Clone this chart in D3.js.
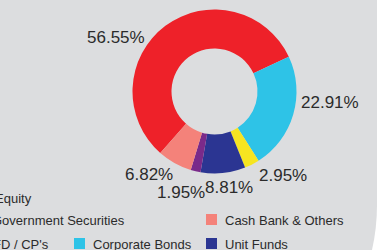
<!DOCTYPE html>
<html><head><meta charset="utf-8">
<script src="https://cdn.jsdelivr.net/npm/d3@7"></script>
<style>html,body{margin:0;padding:0;background:#fff;overflow:hidden}svg{display:block}</style>
</head><body>
<svg id="c" width="377" height="250"></svg>
<script>
const categories = ["Equity","Corporate Bonds","FD / CP's","Unit Funds","Government Securities","Cash Bank & Others"];
const values = [56.55, 22.91, 2.95, 8.81, 1.95, 6.82];
const colors = ["#ee2129","#2ec3e7","#f6e521","#2b3592","#7a2a8a","#f4827a"];
const legendCategories = ["Equity","Government Securities","FD / CP's","Corporate Bonds","Cash Bank & Others","Unit Funds"];
// label anchor positions (text start x, baseline y)
const labelPos = [[87,43],[301,108],[259,181],[205,193],[157,198],[125,180]];

const svg = d3.select("#c");
svg.append("path").attr("d","M0,0H377V205A205,205 0 0 1 372,250H0Z").attr("fill","#dcdddf");

const cx = 214.5, cy = 91.5, rOut = 82, rIn = 43;
const start = -138.6 * Math.PI/180;
const pie = d3.pie().sort(null).value(d=>d).startAngle(start).endAngle(start + 2*Math.PI);
const arc = d3.arc().innerRadius(rIn).outerRadius(rOut);
const g = svg.append("g").attr("transform",`translate(${cx},${cy})`);
g.selectAll("path").data(pie(values)).join("path")
  .attr("d",arc).attr("fill",(d,i)=>colors[i]);

svg.selectAll("text.lbl").data(values).join("text").attr("class","lbl")
  .attr("x",(d,i)=>labelPos[i][0]).attr("y",(d,i)=>labelPos[i][1])
  .attr("font-family","Liberation Sans, Arial, sans-serif").attr("font-size",17)
  .attr("fill","#2b2b2b").text(d=>d.toFixed(2)+"%");

// legend
const legendPos = {
  "Equity":[-24,203],
  "Government Securities":[-27,225],
  "FD / CP's":[-26,249],
  "Corporate Bonds":[74,249],
  "Cash Bank & Others":[206,225],
  "Unit Funds":[206,249]
};
const lg = svg.append("g");
legendCategories.forEach(name=>{
  const [x,y] = legendPos[name];
  const ci = categories.indexOf(name);
  lg.append("rect").attr("x",x).attr("y",y-11).attr("width",11).attr("height",11).attr("fill",colors[ci]);
  lg.append("text").attr("x",x+19).attr("y",y)
    .attr("font-family","Liberation Sans, Arial, sans-serif").attr("font-size",13)
    .attr("fill","#2b2b2b").text(name);
});
</script>
</body></html>
